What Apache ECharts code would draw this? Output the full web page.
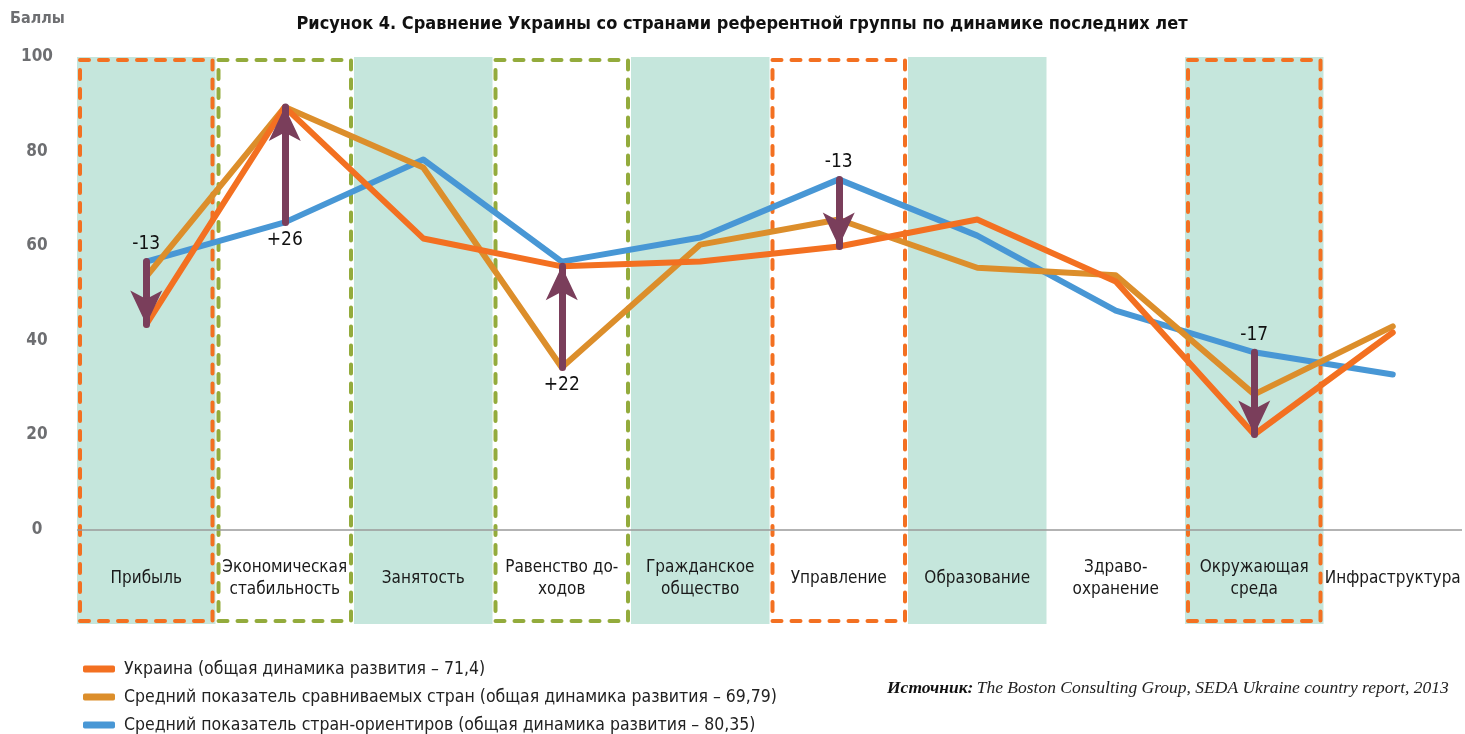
<!DOCTYPE html>
<html>
<head>
<meta charset="utf-8">
<script src="https://cdn.jsdelivr.net/npm/echarts@6/dist/echarts.min.js"></script>
<style>
  html, body { margin: 0; padding: 0; background: #fff; }
  #chart { width: 1465px; height: 734px; }
</style>
</head>
<body>
<div id="chart"></div>
<script>
var FONT = '"Liberation Sans Narrow", "DejaVu Sans Condensed", Roboto, sans-serif';

// категории (ось X)
var categories = ['Прибыль', 'Экономическая\nстабильность', 'Занятость', 'Равенство до-\nходов',
  'Гражданское\nобщество', 'Управление', 'Образование', 'Здраво-\nохранение',
  'Окружающая\nсреда', 'Инфраструктура'];

// значения рядов, баллы
var ukraine = [43.4, 89.4, 61.6, 55.7, 56.7, 59.9, 65.6, 52.5, 20.1, 41.7];
var compared = [53.5, 89.4, 76.6, 34.3, 60.3, 65.6, 55.4, 53.8, 28.6, 43.0];
var benchmark = [56.7, 65.0, 78.3, 56.7, 61.8, 74.1, 62.2, 46.3, 37.5, 32.8];

var seriesNames = [
  'Украина (общая динамика развития – 71,4)',
  'Средний показатель сравниваемых стран (общая динамика развития – 69,79)',
  'Средний показатель стран-ориентиров (общая динамика развития – 80,35)'
];

// стрелки: категория, откуда, куда, подпись
var arrowCats = ['Прибыль', 'Экономическая\nстабильность', 'Равенство до-\nходов', 'Управление', 'Окружающая\nсреда'];
var arrowFrom = [56.7, 65.0, 34.3, 74.1, 37.5];
var arrowTo = [43.4, 89.4, 55.7, 59.9, 20.1];
var arrowLabels = ['-13', '+26', '+22', '-13', '-17'];

// заливка и рамки
var shadedCats = ['Прибыль', 'Занятость', 'Гражданское\nобщество', 'Образование', 'Окружающая\nсреда'];
var orangeBoxes = ['Прибыль', 'Управление', 'Окружающая\nсреда'];
var greenBoxes = ['Экономическая\nстабильность', 'Равенство до-\nходов'];

var yTicks = [0, 20, 40, 60, 80, 100];

var colors = {
  ukraine: '#f37021',
  compared: '#dc8e2b',
  benchmark: '#4897d5',
  shade: '#c5e6dc',
  green: '#93ab3c',
  arrow: '#7a3e5b'
};

var myChart = echarts.init(document.getElementById('chart'));

var bandData = shadedCats.map(function (c) { return [categories.indexOf(c)]; });
var boxData = orangeBoxes.map(function (c) { return [categories.indexOf(c), 0]; })
  .concat(greenBoxes.map(function (c) { return [categories.indexOf(c), 1]; }));

var arrowLines = arrowCats.map(function (c, i) {
  return [
    { name: arrowLabels[i], coord: [c, arrowFrom[i]] },
    { coord: [c, arrowTo[i]] }
  ];
});

var legendTops = [655, 683, 711];
var legends = seriesNames.map(function (n, i) {
  return {
    left: 78,
    top: legendTops[i],
    itemWidth: 32,
    itemHeight: 7,
    itemGap: 0,
    icon: 'roundRect',
    data: [n],
    textStyle: { fontFamily: FONT, fontSize: 17.5, color: '#222', padding: [0, 0, 0, 4] }
  };
});

var option = {
  animation: false,
  textStyle: { fontFamily: FONT },
  title: {
    text: 'Рисунок 4. Сравнение Украины со странами референтной группы по динамике последних лет',
    left: 737,
    textAlign: 'center',
    top: 10,
    textStyle: { fontFamily: FONT, fontSize: 18, fontWeight: 'bold', color: '#111' }
  },
  graphic: [
    {
      type: 'text', left: 10, top: 11,
      style: { text: 'Баллы', font: 'bold 16px ' + FONT, fill: '#6d6e71' }
    },
    {
      type: 'text', left: 887, top: 679,
      style: {
        text: '{b|Источник:} {i|The Boston Consulting Group, SEDA Ukraine country report, 2013}',
        rich: {
          b: { fontFamily: '"Liberation Serif", serif', fontStyle: 'italic', fontWeight: 'bold', fontSize: 17.5, fill: '#111' },
          i: { fontFamily: '"Liberation Serif", serif', fontStyle: 'italic', fontSize: 17.5, fill: '#222' }
        }
      }
    }
  ],
  legend: legends,
  grid: { left: 77, right: 3, top: 57, bottom: 110 },
  xAxis: {
    type: 'category',
    data: categories,
    boundaryGap: true,
    axisLine: { show: false, onZero: false },
    axisTick: { show: false },
    axisLabel: {
      interval: 0,
      inside: true,
      margin: 45,
      verticalAlign: 'middle',
      lineHeight: 22,
      fontFamily: FONT,
      fontSize: 17,
      color: '#1a1a1a'
    },
    splitLine: { show: false }
  },
  yAxis: {
    type: 'value',
    min: -20,
    max: 100,
    interval: 20,
    axisLine: { show: false },
    axisTick: { show: false },
    splitLine: { show: false },
    axisLabel: {
      margin: 40,
      align: 'center',
      fontFamily: FONT,
      fontWeight: 'bold',
      fontSize: 17,
      color: '#6d6e71',
      formatter: function (v) { return yTicks.indexOf(v) >= 0 ? String(v) : ''; }
    }
  },
  series: [
    {
      // заливка полос
      type: 'custom',
      silent: true,
      z: 0,
      data: bandData,
      renderItem: function (params, api) {
        var top = api.coord([api.value(0), 100]);
        var bottom = api.coord([api.value(0), -20]);
        var w = api.size([1, 0])[0];
        return {
          type: 'rect',
          shape: { x: top[0] - w / 2, y: top[1], width: w, height: bottom[1] - top[1] },
          style: { fill: colors.shade }
        };
      }
    },
    {
      // пунктирные рамки
      type: 'custom',
      silent: true,
      z: 1,
      data: boxData,
      renderItem: function (params, api) {
        var top = api.coord([api.value(0), 100]);
        var bottom = api.coord([api.value(0), -20]);
        var w = api.size([1, 0])[0];
        var inset = 3;
        return {
          type: 'rect',
          shape: { x: top[0] - w / 2 + inset, y: top[1] + inset, width: w - inset * 2, height: bottom[1] - top[1] - inset * 2 },
          style: {
            fill: 'none',
            stroke: api.value(1) === 0 ? colors.ukraine : colors.green,
            lineWidth: 4,
            lineDash: [9, 10],
            lineCap: 'round'
          }
        };
      }
    },
    {
      // нулевая линия
      type: 'line',
      z: 2,
      data: [],
      markLine: {
        silent: true,
        symbol: ['none', 'none'],
        label: { show: false },
        lineStyle: { color: '#9a9a9a', width: 1.5, type: 'solid' },
        data: [{ yAxis: 0 }]
      }
    },
    {
      name: seriesNames[2],
      type: 'line',
      z: 3,
      data: benchmark,
      symbol: 'none',
      color: colors.benchmark,
      lineStyle: { width: 6, cap: 'round', join: 'round' }
    },
    {
      name: seriesNames[1],
      type: 'line',
      z: 3,
      data: compared,
      symbol: 'none',
      color: colors.compared,
      lineStyle: { width: 6, cap: 'round', join: 'round' }
    },
    {
      // стрелки изменений
      type: 'line',
      z: 3,
      data: [],
      markLine: {
        silent: true,
        symbol: ['none', 'arrow'],
        symbolSize: [24, 34],
        lineStyle: { color: colors.arrow, width: 7, type: 'solid', cap: 'round' },
        itemStyle: { color: colors.arrow },
        label: {
          show: true,
          position: 'start',
          distance: 8,
          formatter: '{b}',
          fontFamily: FONT,
          fontSize: 19,
          color: '#111'
        },
        data: arrowLines
      }
    },
    {
      name: seriesNames[0],
      type: 'line',
      z: 3,
      data: ukraine,
      symbol: 'none',
      color: colors.ukraine,
      lineStyle: { width: 6, cap: 'round', join: 'round' }
    }
  ]
};

myChart.setOption(option);
</script>
</body>
</html>
